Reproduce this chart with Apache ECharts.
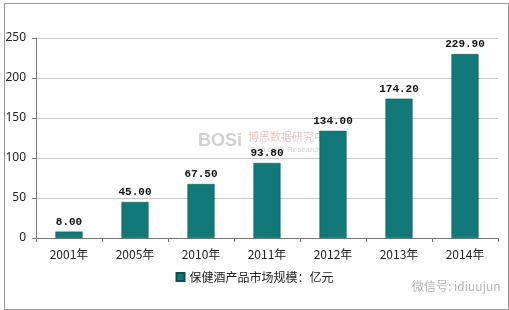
<!DOCTYPE html>
<html><head><meta charset="utf-8">
<script src="https://cdn.jsdelivr.net/npm/echarts@6/dist/echarts.min.js"></script>
<style>html,body{margin:0;padding:0;background:#fff}#c{width:509px;height:310px}</style>
</head><body><div id="c"></div>
<script>
const categories = ['2001年','2005年','2010年','2011年','2012年','2013年','2014年'];
const values = [8.00, 45.00, 67.50, 93.80, 134.00, 174.20, 229.90];
const yTicks = [0, 50, 100, 150, 200, 250];
const seriesName = '保健酒产品市场规模：亿元';

const chart = echarts.init(document.getElementById('c'));
chart.setOption({
  animation: false,
  backgroundColor: '#fff',
  grid: {left: 36, right: 11, top: 38, bottom: 72},
  legend: {
    data: [seriesName], bottom: 22, left: 'center',
    itemWidth: 8, itemHeight: 8, icon: 'rect', itemGap: 4,
    textStyle: {fontFamily: 'Noto Sans CJK SC', fontSize: 12, color: '#222'}
  },
  xAxis: {
    type: 'category', data: categories,
    axisLine: {lineStyle: {color: '#777'}},
    axisTick: {show: true, length: 4, lineStyle: {color: '#777'}},
    axisLabel: {fontFamily: 'Noto Sans CJK SC', fontSize: 12, color: '#222', margin: 10}
  },
  yAxis: {
    type: 'value', min: yTicks[0], max: yTicks[yTicks.length-1], interval: 50,
    axisLine: {show: true, lineStyle: {color: '#777'}},
    axisTick: {show: true, length: 4, lineStyle: {color: '#777'}},
    splitLine: {lineStyle: {color: '#c8c8c8'}},
    axisLabel: {fontFamily: 'Noto Sans', fontSize: 12, color: '#222', margin: 10}
  },
  graphic: [
    {type: 'rect', left: 2, top: 1, shape: {width: 504, height: 306}, style: {fill: 'none', stroke: '#999', lineWidth: 1}, silent: true},
    {type: 'text', left: 198, top: 132, style: {text: 'BOSi', font: 'bold 18px Liberation Sans', fill: 'rgba(120,120,120,0.35)'}},
    {type: 'text', left: 248, top: 131, style: {text: '博思数据研究中心', font: '11px Noto Sans CJK SC', fill: 'rgba(220,80,80,0.35)'}},
    {type: 'text', left: 250, top: 146, style: {text: 'Bosi Data Research Center', font: '8px Liberation Sans', fill: 'rgba(120,120,120,0.35)'}},
    {type: 'text', left: 412, top: 280, style: {text: '微信号: idiuujun', font: '12px Noto Sans CJK SC', fill: 'rgba(130,130,130,0.6)'}}
  ],
  series: [{
    name: seriesName, type: 'bar', data: values, barWidth: '41%',
    itemStyle: {color: '#117a78', borderColor: '#0a4f4d', borderWidth: 0.5},
    label: {
      show: true, position: 'top', distance: 4,
      formatter: p => p.value.toFixed(2),
      fontFamily: 'Liberation Mono', fontWeight: 'bold', fontSize: 11, color: '#111'
    }
  }]
});
</script></body></html>
